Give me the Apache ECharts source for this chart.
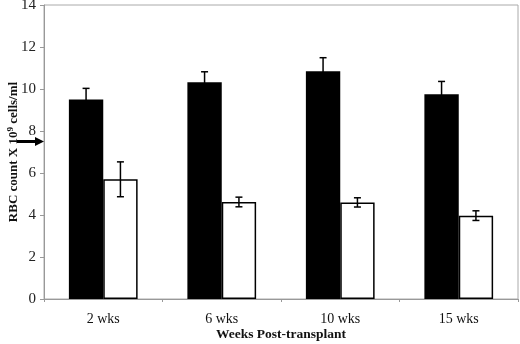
<!DOCTYPE html>
<html>
<head>
<meta charset="utf-8">
<script src="https://cdn.jsdelivr.net/npm/echarts@6/dist/echarts.min.js"></script>
<style>
  html, body { margin: 0; padding: 0; background: #fff; }
  #chart { width: 520px; height: 344px; }
</style>
</head>
<body>
<div id="chart"></div>
<script>
// categories and values
const weeks = ['2 wks', '6 wks', '10 wks', '15 wks'];
const blackVals = [9.5, 10.32, 10.85, 9.75];
const blackErr = [0.53, 0.5, 0.64, 0.61];
const whiteVals = [5.7, 4.62, 4.6, 3.97];
const whiteErr = [0.83, 0.23, 0.22, 0.23];
const refLevel = 7.5; // arrow on the y axis

const myChart = echarts.init(document.getElementById('chart'));
const serif = '"Liberation Serif", "DejaVu Serif", serif';

// error bar renderer; side = -1 for the black bar, +1 for the white bar
function errorBars(vals, errs, side) {
  return function (params, api) {
    const i = api.value(0);
    const band = api.size([1, 0])[0];
    const c = api.coord([i, vals[i]]);
    const x = c[0] + side * band * 0.145;
    const hi = api.coord([i, vals[i] + errs[i]])[1];
    const lo = api.coord([i, vals[i] - errs[i]])[1];
    const st = { stroke: '#000', lineWidth: 1.5 };
    return {
      type: 'group',
      children: [
        { type: 'line', shape: { x1: x, y1: hi, x2: x, y2: lo }, style: st },
        { type: 'line', shape: { x1: x - 3.5, y1: hi, x2: x + 3.5, y2: hi }, style: st },
        { type: 'line', shape: { x1: x - 3.5, y1: lo, x2: x + 3.5, y2: lo }, style: st }
      ]
    };
  };
}

const option = {
  animation: false,
  grid: {
    left: 44, right: 2, top: 5, bottom: 45,
    containLabel: false, outerBoundsMode: 'none',
    show: true, borderColor: '#aaa', borderWidth: 1
  },
  xAxis: {
    type: 'category',
    data: weeks,
    name: 'Weeks Post-transplant',
    nameLocation: 'middle',
    nameGap: 29,
    nameMoveOverlap: false,
    nameTextStyle: { fontFamily: serif, fontWeight: 'bold', fontSize: 13.5, color: '#111' },
    axisLine: { lineStyle: { color: '#999' } },
    axisTick: { show: true, length: 3, lineStyle: { color: '#999' } },
    axisLabel: { fontFamily: serif, fontSize: 14, color: '#111', margin: 13 }
  },
  yAxis: {
    type: 'value',
    min: 0, max: 14, interval: 2,
    name: '{a|RBC count X 10}{s|9}{a| cells/ml}',
    nameLocation: 'middle',
    nameGap: 23,
    nameMoveOverlap: false,
    nameRotate: 90,
    nameTextStyle: {
      rich: {
        a: { fontFamily: serif, fontWeight: 'bold', fontSize: 13, color: '#111' },
        s: { fontFamily: serif, fontWeight: 'bold', fontSize: 9, color: '#111', verticalAlign: 'top', padding: [0, 0, 6, 0] }
      }
    },
    axisLine: { show: true, lineStyle: { color: '#999' } },
    axisTick: { show: true, length: 4, lineStyle: { color: '#999' } },
    axisLabel: { fontFamily: serif, fontSize: 15, color: '#222', margin: 8 },
    splitLine: { show: false }
  },
  series: [
    {
      type: 'bar',
      data: blackVals,
      barGap: '0%',
      barCategoryGap: '42%',
      itemStyle: { color: '#000' }
    },
    {
      type: 'bar',
      data: whiteVals,
      itemStyle: { color: '#fff', borderColor: '#000', borderWidth: 1.5 }
    },
    {
      type: 'custom',
      data: weeks.map((w, i) => [i]),
      renderItem: errorBars(blackVals, blackErr, -1),
      z: 5
    },
    {
      type: 'custom',
      data: weeks.map((w, i) => [i]),
      renderItem: errorBars(whiteVals, whiteErr, 1),
      z: 5
    }
  ]
};

myChart.setOption(option);

// arrow pointing at the reference level on the y axis
const ay = myChart.convertToPixel({ yAxisIndex: 0 }, refLevel);
const ax = 44;
myChart.setOption({
  graphic: [
    { type: 'rect', shape: { x: 17, y: ay - 1.5, width: 20, height: 3 }, style: { fill: '#000' } },
    { type: 'polygon', shape: { points: [[35, ay - 4.5], [ax, ay], [35, ay + 4.5]] }, style: { fill: '#000' } }
  ]
});
</script>
</body>
</html>
